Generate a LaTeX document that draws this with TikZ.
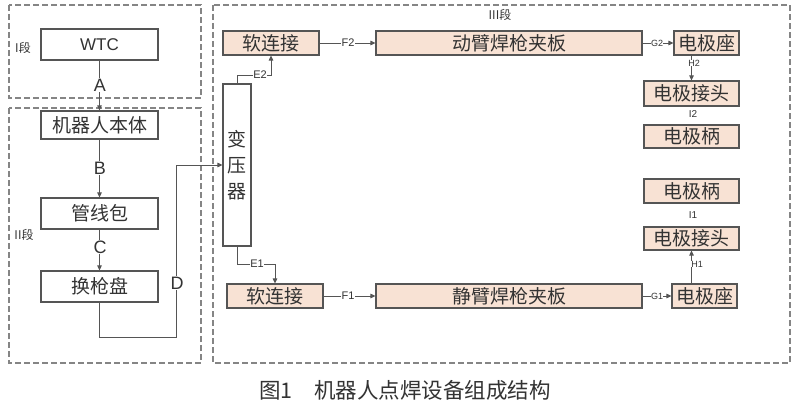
\documentclass[tikz,border=0pt]{standalone}
\usepackage{fontspec}
\setmainfont{Liberation Sans}
\newfontfamily\cjk{Noto Sans CJK SC}
\usetikzlibrary{arrows.meta}
\definecolor{linec}{HTML}{555555}
\definecolor{zonec}{HTML}{858585}
\definecolor{txt}{HTML}{333333}
\definecolor{peach}{HTML}{F8E2D4}
\begin{document}
\begin{tikzpicture}[x=1pt,y=-1pt,
  blk/.style={draw=linec, line width=1.1pt, fill=white, inner sep=0pt, text=txt,
    font=\cjk\fontsize{19}{19}\selectfont},
  pk/.style={blk, fill=peach},
  zone/.style={draw=zonec, line width=1.1pt, dash pattern=on 6pt off 3pt},
  con/.style={draw=linec, line width=0.9pt},
  arr/.style={con, -{Triangle[length=5pt,width=4.5pt]}},
  lab/.style={fill=white, inner sep=1pt, text=txt, font=\fontsize{18}{18}\selectfont},
  slab/.style={lab, inner sep=0.5pt, font=\fontsize{11}{11}\selectfont},
  tlab/.style={lab, inner sep=0.3pt, font=\fontsize{9}{9}\selectfont},
  zlab/.style={text=txt, inner sep=0pt, font=\cjk\fontsize{12}{12}\selectfont}
]
\useasboundingbox[fill=white] (0,0) rectangle (800,401);
% zones
\draw[zone] (9,5) rectangle (201,98);
\draw[zone] (9,108) rectangle (201,363);
\draw[zone] (213,5) rectangle (790,363);
\node[zlab] (z1) at (23,48) {I段};
\node[zlab] (z2) at (24,235) {II段};
\node[zlab] (z3) at (500,15) {III段};
% left column
\node[blk, minimum width=117pt, minimum height=31pt, font=\fontsize{17}{17}\selectfont] (wtc) at (99.5,44.5) {WTC};
\node[blk, minimum width=117pt, minimum height=28pt] (robot) at (99.5,125) {机器人本体};
\node[blk, minimum width=117pt, minimum height=31pt] (pipe) at (99.5,213.5) {管线包};
\node[blk, minimum width=117pt, minimum height=31pt] (chg) at (99.5,286.5) {换枪盘};
% transformer
\node[blk, minimum width=28pt, minimum height=162pt, align=center,
  font=\cjk\fontsize{19}{26}\selectfont] (trans) at (237,165) {变\\压\\器};
% soft connections
\node[pk, minimum width=96pt, minimum height=24pt] (soft2) at (271,43) {软连接};
\node[pk, minimum width=96pt, minimum height=24pt] (soft1) at (275,296) {软连接};
% clamp plates
\node[pk, minimum width=266pt, minimum height=24pt] (arm2) at (509,43) {动臂焊枪夹板};
\node[pk, minimum width=266pt, minimum height=24pt] (arm1) at (509,296) {静臂焊枪夹板};
% electrode column
\node[pk, minimum width=65pt, minimum height=24pt] (seat2) at (706.5,43) {电极座};
\node[pk, minimum width=95pt, minimum height=25pt] (joint2) at (691.5,93.5) {电极接头};
\node[pk, minimum width=95pt, minimum height=23pt] (handle2) at (691.5,136.5) {电极柄};
\node[pk, minimum width=95pt, minimum height=24pt] (handle1) at (691.5,191) {电极柄};
\node[pk, minimum width=95pt, minimum height=23pt] (joint1) at (691.5,238.5) {电极接头};
\node[pk, minimum width=65pt, minimum height=24pt] (seat1) at (704.5,296) {电极座};
% connectors left
\draw[arr] (wtc.south) -- (robot.north);
\node[lab] (la) at (100,85) {A};
\draw[arr] (robot.south) -- (pipe.north);
\node[lab] (lb) at (100,168) {B};
\draw[arr] (pipe.south) -- (chg.north);
\node[lab] (lc) at (100,247) {C};
\draw[arr] (chg.south) -- (99.5,337) -- (176,337) -- (176,165) -- (trans.west);
\node[lab] (ld) at (177,283) {D};
% transformer outputs
\draw[arr] (trans.north) -- (237,75) -- (271,75) -- (soft2.south);
\node[slab] (le2) at (260,75) {E2};
\draw[arr] (trans.south) -- (237,264) -- (275,264) -- (soft1.north);
\node[slab] (le1) at (257,264) {E1};
% to clamp plates
\draw[arr] (soft2.east) -- (arm2.west);
\node[slab] (lf2) at (348,43) {F2};
\draw[arr] (soft1.east) -- (arm1.west);
\node[slab] (lf1) at (348,296) {F1};
% to electrode seats
\draw[arr] (arm2.east) -- (seat2.west);
\node[tlab] (lg2) at (657,43) {G2};
\draw[arr] (arm1.east) -- (seat1.west);
\node[tlab] (lg1) at (657,296) {G1};
% electrode stack
\draw[arr] (joint2.north |- seat2.south) -- (joint2.north);
\node[tlab] (lh2) at (694,63) {H2};
\draw[arr] (joint1.south |- seat1.north) -- (joint1.south);
\node[tlab] (lh1) at (697,264) {H1};
\node[text=txt, inner sep=0pt, font=\fontsize{10}{10}\selectfont] (li2) at (693,114) {I2};
\node[text=txt, inner sep=0pt, font=\fontsize{10}{10}\selectfont] (li1) at (693,215) {I1};
% caption
\node[text=txt, inner sep=0pt, font=\cjk\fontsize{21.5}{21.5}\selectfont] (cap) at (405,390) {图1\quad 机器人点焊设备组成结构};
\end{tikzpicture}
\end{document}
